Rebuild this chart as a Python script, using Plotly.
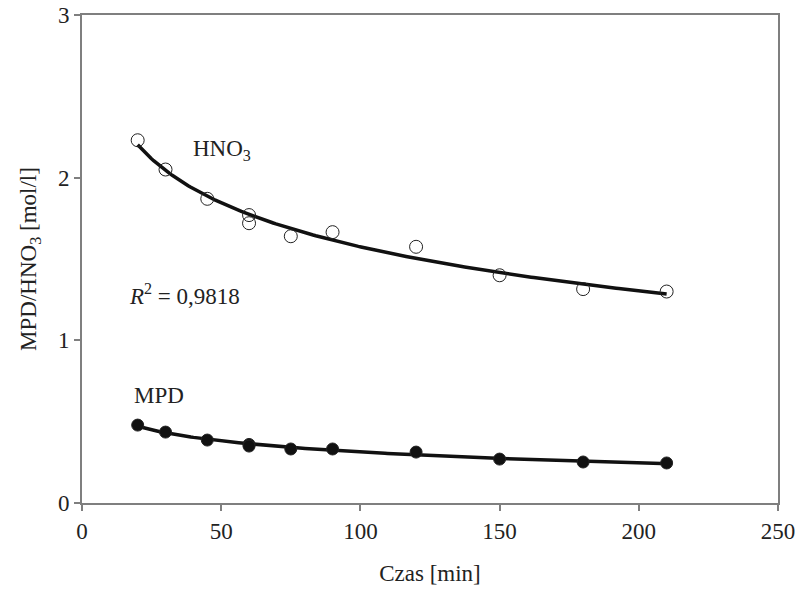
import numpy as np
import plotly.graph_objects as go

# Measured concentrations over time
czas = [20, 30, 45, 60, 60, 75, 90, 120, 150, 180, 210]
hno3 = [2.23, 2.05, 1.87, 1.77, 1.72, 1.64, 1.665, 1.575, 1.40, 1.315, 1.30]
mpd = [0.479, 0.436, 0.387, 0.36, 0.35, 0.332, 0.332, 0.313, 0.27, 0.252, 0.246]

x_ticks = [0, 50, 100, 150, 200, 250]
y_ticks = [0, 1, 2, 3]

FONT = "Liberation Serif, DejaVu Serif, Times New Roman, serif"
TEXT_COLOR = "#222222"
AXIS_COLOR = "#7f7f7f"


def log_trend(x, y):
    """Least-squares fit y = a + b*ln(x), evaluated on a dense grid."""
    x = np.asarray(x, float)
    b, a = np.polyfit(np.log(x), np.asarray(y, float), 1)
    xs = np.linspace(x.min(), x.max(), 200)
    return xs, a + b * np.log(xs)


fig = go.Figure()

for series, filled in ((hno3, False), (mpd, True)):
    xs, ys = log_trend(czas, series)
    fig.add_trace(go.Scatter(x=xs, y=ys, mode="lines",
                             line=dict(color="#111111", width=3.5),
                             hoverinfo="skip", showlegend=False))
    fig.add_trace(go.Scatter(
        x=czas, y=series, mode="markers", showlegend=False,
        marker=dict(symbol="circle", size=12 if filled else 13,
                    color="#111111" if filled else "rgba(0,0,0,0)",
                    line=dict(color="#222222", width=1))))

label_font = dict(family=FONT, size=23, color=TEXT_COLOR)
fig.add_annotation(x=39, y=2.17, xanchor="left", yanchor="middle",
                   text="HNO<sub>3</sub>", showarrow=False, font=label_font)
fig.add_annotation(x=16, y=1.28, xanchor="left", yanchor="middle",
                   text="<i>R</i><sup>2</sup> = 0,9818", showarrow=False,
                   font=label_font)
fig.add_annotation(x=18, y=0.66, xanchor="left", yanchor="middle",
                   text="MPD", showarrow=False, font=label_font)

axis_common = dict(showgrid=False, zeroline=False, showline=True,
                   linecolor=AXIS_COLOR, linewidth=2, mirror=True,
                   ticks="outside", ticklen=6, tickwidth=1.5,
                   tickcolor=AXIS_COLOR, automargin=False,
                   tickfont=dict(family=FONT, size=23, color=TEXT_COLOR))

fig.update_xaxes(range=[0, 250], tickvals=x_ticks,
                 title=dict(text="Czas [min]", standoff=22,
                            font=dict(family=FONT, size=23, color=TEXT_COLOR)),
                 **axis_common)
fig.update_yaxes(range=[0, 3], tickvals=y_ticks,
                 title=dict(text="MPD/HNO<sub>3</sub> [mol/l]", standoff=15,
                            font=dict(family=FONT, size=23, color=TEXT_COLOR)),
                 **axis_common)

fig.update_layout(width=802, height=589,
                  margin=dict(l=82, r=24, t=15, b=86),
                  paper_bgcolor="white", plot_bgcolor="white")

fig.write_html("out.html")
